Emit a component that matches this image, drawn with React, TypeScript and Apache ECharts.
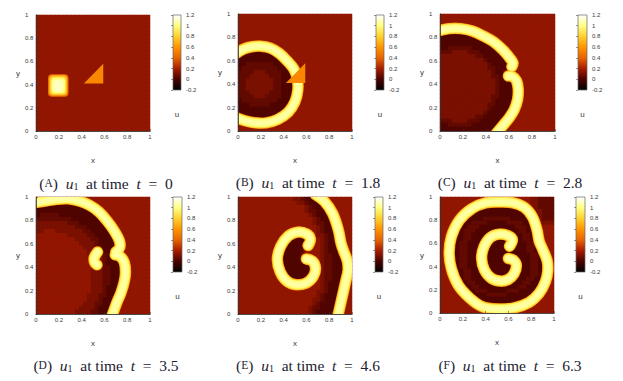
import React, { useEffect, useRef } from "react";
import * as echarts from "echarts";

const panelLetters = ["A", "B", "C", "D", "E", "F"];
const panelTimes = ["0", "1.8", "2.8", "3.5", "4.6", "6.3"];
const axisTicks = { min: 0, max: 1, step: 0.2 };
const colorRange = { min: -0.2, max: 1.2, step: 0.2 };
const palette = ["#000000", "#4a0300", "#a81c00", "#e86400", "#ff9400", "#ffd030", "#ffff80", "#ffffff"];

// field levels
const levelValues = [-0.02, 0.01, 0.05, 0.1, 0.15];
const backgroundValue = 0.15;
const cellCount = 29;

// each row, top to bottom: "level.runLength" runs from x = 0; the rest of a row is background
const fieldA: string[] = [];
const fieldB = ["", "", "", "", "", "", "", "", "",
  "1.10", "1.11", "1.12", "1.2 2.7 1.4", "1.1 2.9 1.4", "2.4 3.3 2.4 1.3", "2.3 3.5 2.3 1.4",
  "2.2 3.7 2.2 1.4", "2.2 3.7 2.2 1.4", "2.2 3.7 2.2 1.4", "2.3 3.5 2.3 1.4", "2.4 3.3 2.4 1.4",
  "1.1 2.9 1.4", "1.3 2.5 1.6", "1.13", "1.13", "1.11", "1.9", "", ""];
const fieldC = ["", "", "", "",
  "1.9", "1.11", "1.13", "1.14", "1.2 2.6 1.7", "2.3 3.4 2.3 1.6", "3.9 2.2 1.6", "3.11 2.1 1.6",
  "3.12 2.1 1.5", "3.12 2.2 1.3 2.1", "3.13 2.1 1.2 3.1", "3.13 2.2 1.3", "3.14 2.1 1.4", "3.14 2.1 1.4",
  "3.14 2.1 1.5", "3.14 2.1 1.5", "3.13 2.2 1.5", "3.13 2.1 1.6", "3.12 2.2 1.5", "3.12 2.1 1.6",
  "3.11 2.1 1.6", "3.9 2.2 1.6", "2.3 3.4 2.3 1.6", "1.2 2.6 1.8", "1.15"];
const fieldD = ["",
  "1.12", "1.14", "1.16", "1.1 2.5 1.11", "2.9 1.9", "3.8 2.3 1.8", "3.10 2.3 1.6", "3.2 4.3 3.7 2.2 1.6",
  "4.8 3.5 2.2 1.6", "4.10 3.4 2.2 1.5", "4.11 3.4 2.1 1.6", "4.12 3.3 2.2 1.5", "4.13 3.3 2.1 1.3",
  "4.13 3.3 2.2 1.3", "4.14 3.3 2.1 1.4", "4.14 3.3 2.1 1.5", "4.14 3.3 2.2 1.4", "4.14 3.3 2.2 1.4",
  "4.14 3.3 2.2 1.4", "4.14 3.3 2.2 1.4", "4.14 3.3 2.2 1.3", "4.14 3.3 2.1 1.4", "4.14 3.3 2.1 1.4",
  "4.13 3.3 2.2 1.3", "4.13 3.3 2.1 1.4", "4.12 3.3 2.2 1.3", "4.11 3.4 2.1 1.4", "4.10 3.4 2.2 1.3"];
const fieldE = [
  "4.14 3.2 2.1 1.3", "4.15 3.2 2.1 1.4", "4.17 3.1 2.1 1.4", "4.17 3.1 2.2 1.4", "4.18 3.1 2.1 1.4",
  "4.19 3.1 2.1 1.4", "4.19 3.1 2.2 1.3", "4.20 3.1 2.1 1.4", "4.20 3.1 2.1 1.4", "4.13 1.5 4.2 3.2 2.1 1.3",
  "4.12 1.6 4.3 3.1 2.1 1.3", "4.11 1.7 4.3 3.1 2.1 1.4", "4.11 1.6 4.4 3.1 2.1 1.4", "4.10 1.6 2.1 4.4 3.1 2.1 1.4",
  "4.10 1.6 3.1 4.4 3.1 2.2 1.4", "4.10 1.7 4.4 3.1 2.2 1.4", "4.10 1.9 4.2 3.1 2.2 1.4", "4.10 1.10 4.1 3.1 2.2 1.4",
  "4.10 1.10 4.1 3.1 2.2 1.4", "4.11 1.8 4.2 3.1 2.2 1.4", "4.12 1.6 4.3 3.1 2.2 1.4", "4.14 1.3 4.4 3.1 2.1 1.4",
  "4.21 3.1 2.1 1.4", "4.20 3.2 2.1 1.4", "4.20 3.1 2.1 1.5", "4.19 3.2 2.1 1.4", "4.19 3.1 2.1 1.5",
  "4.18 3.1 2.2 1.5", "4.18 3.1 2.1 1.5"];
const fieldF = [
  "4.23 3.2 2.4", "4.12 1.7 4.4 3.2 2.4", "4.9 1.12 4.2 3.2 2.4", "4.8 1.14 4.1 3.3 2.3", "4.6 1.17 3.3 2.3",
  "4.5 1.6 2.7 1.6 3.2 2.3", "4.4 1.4 2.4 1.5 2.4 1.3 3.5", "4.4 1.3 2.3 1.9 2.3 1.2", "4.3 1.3 2.3 1.11 2.2 1.3",
  "4.3 1.3 2.2 1.13 2.2 1.2", "4.3 1.3 2.2 1.13 2.2 1.2", "4.3 1.2 2.2 1.15 2.2 1.2", "4.2 1.3 2.2 1.15 2.2 1.2",
  "4.2 1.3 2.2 1.15 2.2 1.2", "4.2 1.3 2.2 1.16 2.2 1.2", "4.2 1.3 2.2 1.16 2.2 1.2", "4.2 1.3 2.2 1.16 2.2 1.2",
  "4.2 1.3 2.2 1.16 2.2 1.2", "4.3 1.3 2.2 1.15 2.2 1.2", "4.3 1.3 2.2 1.15 2.2 1.2", "4.3 1.3 2.2 1.14 2.2 1.3",
  "4.4 1.3 2.2 1.12 2.2 1.4", "4.5 1.3 2.2 1.10 2.2 1.4", "4.5 1.4 2.3 1.5 2.3 1.6", "4.7 1.5 2.5 1.8",
  "4.8 1.16", "4.9 1.14", "4.11 1.8", ""];

// centre lines of the bright fronts as [x, y]
const bandsA: number[][][] = [];
const bandsB = [[[-0.02, 0.66], [0.05, 0.7], [0.12, 0.72], [0.2, 0.725], [0.28, 0.71], [0.36, 0.665], [0.43, 0.6], [0.49, 0.53], [0.52, 0.45], [0.525, 0.35], [0.5, 0.25], [0.44, 0.16], [0.35, 0.1], [0.25, 0.07], [0.15, 0.07], [0.07, 0.085], [-0.02, 0.115]]];
const bandsC = [
  [[-0.02, 0.855], [0.08, 0.875], [0.18, 0.875], [0.28, 0.855], [0.38, 0.81], [0.47, 0.76], [0.55, 0.69], [0.61, 0.62], [0.635, 0.58], [0.625, 0.55]],
  [[0.595, 0.47], [0.63, 0.465], [0.665, 0.43], [0.68, 0.36], [0.675, 0.27], [0.645, 0.18], [0.6, 0.11], [0.55, 0.05], [0.49, -0.02]],
];
const bandsD = [
  [[-0.02, 0.95], [0.08, 0.965], [0.18, 0.98], [0.28, 0.985], [0.38, 0.965], [0.47, 0.93], [0.55, 0.875], [0.62, 0.8], [0.68, 0.72], [0.73, 0.63], [0.735, 0.57], [0.7, 0.53]],
  [[0.695, 0.505], [0.74, 0.49], [0.775, 0.44], [0.785, 0.36], [0.775, 0.28], [0.745, 0.18], [0.71, 0.1], [0.665, -0.02]],
  [[0.54, 0.53], [0.51, 0.48], [0.515, 0.44], [0.535, 0.42]],
];
const bandsE = [
  [[0.68, 1.02], [0.76, 0.96], [0.83, 0.86], [0.88, 0.72], [0.905, 0.6], [0.93, 0.53], [0.96, 0.45], [0.965, 0.37], [0.945, 0.28], [0.915, 0.15], [0.875, -0.02]],
  [[0.615, 0.585], [0.635, 0.64], [0.6, 0.685], [0.52, 0.7], [0.44, 0.665], [0.375, 0.58], [0.345, 0.47], [0.37, 0.36], [0.43, 0.28], [0.51, 0.25], [0.6, 0.265], [0.66, 0.32], [0.68, 0.39], [0.655, 0.45], [0.6, 0.47]],
];
const bandsF = [
  [[0.53, 0.957], [0.64, 0.95], [0.74, 0.91], [0.81, 0.83], [0.85, 0.72], [0.87, 0.62], [0.9, 0.55], [0.94, 0.45], [0.945, 0.36], [0.925, 0.27], [0.87, 0.17], [0.78, 0.09], [0.65, 0.045], [0.5, 0.035], [0.37, 0.055], [0.26, 0.13], [0.16, 0.24], [0.1, 0.38], [0.08, 0.52], [0.1, 0.66], [0.17, 0.8], [0.28, 0.9], [0.4, 0.95], [0.53, 0.957]],
  [[0.61, 0.575], [0.635, 0.63], [0.6, 0.665], [0.52, 0.68], [0.44, 0.65], [0.385, 0.57], [0.365, 0.47], [0.39, 0.37], [0.45, 0.3], [0.53, 0.275], [0.6, 0.29], [0.65, 0.34], [0.67, 0.41], [0.645, 0.455], [0.6, 0.47]],
];

// initial square of panel A: x0, y0, x1, y1, value
const squareA = [
  [0.105, 0.295, 0.285, 0.49, 0.45],
  [0.115, 0.305, 0.275, 0.48, 0.7],
  [0.125, 0.315, 0.265, 0.47, 0.85],
  [0.135, 0.325, 0.255, 0.46, 1.0],
  [0.15, 0.34, 0.24, 0.44, 1.1],
];
// obstacle triangle: x, y of three corners, in panels A and B
const triangle = [0.42, 0.41, 0.59, 0.41, 0.59, 0.58];
const triangleValue = 0.55;
const bandLayerValues = [0.62, 0.85, 1.0, 1.06];

const fields = [fieldA, fieldB, fieldC, fieldD, fieldE, fieldF];
const bands = [bandsA, bandsB, bandsC, bandsD, bandsE, bandsF];

const plotRects = [
  [36, 15, 114, 116], [238, 14, 114, 117], [440, 14, 115, 117],
  [36, 197, 114, 117], [238, 197, 114, 117], [440, 197, 114, 116],
];
const barRects = [
  [173, 15, 8, 75], [376, 15, 8, 75], [578, 15, 9, 75],
  [173, 197, 9, 75], [375, 197, 8, 75], [576, 197, 9, 75],
];
const captionCentres = [[106, 183], [308, 182], [510, 182], [106, 365], [308, 365], [510, 365]];
const bandWidths = [11.5, 10.2, 8, 4];
const SANS = "'Liberation Sans', Arial, sans-serif";
const SERIF = "'Liberation Serif', serif";
const TEXT = "#3a3a3a";

function colorAt(v: number): string {
  const t = ((v - colorRange.min) / (colorRange.max - colorRange.min)) * (palette.length - 1);
  const i = Math.min(palette.length - 2, Math.floor(t));
  return echarts.color.lerp(t - i, [palette[i], palette[i + 1]]) as string;
}

function decode(rows: string[]): number[][] {
  const out: number[][] = [];
  for (let r = 0; r < cellCount; r++) {
    const cells: number[] = [];
    (rows[r] || "").split(" ").filter(Boolean).forEach((run) => {
      const [lev, n] = run.split(".").map(Number);
      for (let k = 0; k < n; k++) cells.push(lev);
    });
    while (cells.length < cellCount) cells.push(4);
    cells.slice(0, cellCount).forEach((lev, c) => out.push([c, cellCount - 1 - r, levelValues[lev]]));
  }
  return out;
}

function buildOption() {
  const grid: any[] = [];
  const xAxis: any[] = [];
  const yAxis: any[] = [];
  const series: any[] = [];
  const graphic: any[] = [];
  const indices = Array.from({ length: cellCount }, (_, i) => String(i));
  const tickLabel = { fontSize: 6, color: TEXT, fontFamily: SANS };
  const line = { show: true, lineStyle: { color: "#333", width: 0.6 } };
  const tick = { show: true, inside: true, length: 2, lineStyle: { color: "#333", width: 0.5 } };

  plotRects.forEach((rect, p) => {
    const g = grid.length;
    grid.push({ left: rect[0], top: rect[1], width: rect[2], height: rect[3], containLabel: false, show: true, borderWidth: 0, backgroundColor: colorAt(backgroundValue) });
    const xCat = xAxis.length;
    xAxis.push({ gridIndex: g, type: "category", data: indices, position: "top", z: 10, axisLine: line, axisTick: { show: false }, axisLabel: { show: false }, splitLine: { show: false } });
    const xVal = xAxis.length;
    xAxis.push({
      gridIndex: g, type: "value", position: "bottom", min: axisTicks.min, max: axisTicks.max, interval: axisTicks.step, z: 10,
      name: "x", nameLocation: "middle", nameGap: 25, nameTextStyle: { fontSize: 8, color: TEXT, fontFamily: SANS },
      axisLine: line, axisTick: tick, axisLabel: { ...tickLabel, margin: 3 }, splitLine: { show: false },
    });
    const yCat = yAxis.length;
    yAxis.push({ gridIndex: g, type: "category", data: indices, position: "right", z: 10, axisLine: line, axisTick: { show: false }, axisLabel: { show: false }, splitLine: { show: false } });
    const yVal = yAxis.length;
    yAxis.push({
      gridIndex: g, type: "value", position: "left", min: axisTicks.min, max: axisTicks.max, interval: axisTicks.step, z: 10,
      name: "y", nameLocation: "middle", nameGap: 16, nameRotate: 0, nameTextStyle: { fontSize: 8, color: TEXT, fontFamily: SANS },
      axisLine: line, axisTick: tick, axisLabel: { ...tickLabel, margin: 11, align: "left" }, splitLine: { show: false },
    });

    series.push({ type: "heatmap", xAxisIndex: xCat, yAxisIndex: yCat, data: decode(fields[p]), z: 2, itemStyle: { borderWidth: 0 } });

    bands[p].forEach((points) => {
      bandLayerValues.forEach((v, layer) => {
        series.push({
          type: "custom", xAxisIndex: xVal, yAxisIndex: yVal, data: points, z: 3 + layer * 0.1, clip: true,
          encode: { x: 0, y: 1 },
          renderItem: (params: any, api: any) => {
            if (params.dataIndex !== 0) return null;
            return {
              type: "polyline",
              shape: { points: points.map((q) => api.coord(q)), smooth: 0.35 },
              style: { fill: "none", stroke: colorAt(v), lineWidth: bandWidths[layer], lineCap: "round", lineJoin: "round" },
            };
          },
        });
      });
    });

    if (p === 0) {
      series.push({
        type: "custom", xAxisIndex: xVal, yAxisIndex: yVal, data: squareA, z: 4, clip: true,
        encode: { x: [0, 2], y: [1, 3] },
        renderItem: (_: any, api: any) => {
          const a = api.coord([api.value(0), api.value(3)]);
          const b = api.coord([api.value(2), api.value(1)]);
          return {
            type: "rect",
            shape: { x: a[0], y: a[1], width: b[0] - a[0], height: b[1] - a[1], r: 4 },
            style: { fill: colorAt(api.value(4)) },
          };
        },
      });
    }
    if (p < 2) {
      series.push({
        type: "custom", xAxisIndex: xVal, yAxisIndex: yVal, data: [triangle], z: 5, clip: true,
        encode: { x: [0, 2, 4], y: [1, 3, 5] },
        renderItem: (_: any, api: any) => ({
          type: "polygon",
          shape: { points: [0, 2, 4].map((k) => api.coord([api.value(k), api.value(k + 1)])) },
          style: { fill: colorAt(triangleValue) },
        }),
      });
    }

    // colour bar with its own value axis
    const bar = barRects[p];
    const bg = grid.length;
    grid.push({ left: bar[0], top: bar[1], width: bar[2], height: bar[3], containLabel: false });
    const xBar = xAxis.length;
    xAxis.push({
      gridIndex: bg, type: "value", min: 0, max: 1, name: "u", nameLocation: "middle", nameGap: 20,
      nameTextStyle: { fontSize: 8, color: TEXT, fontFamily: SANS },
      axisLine: { show: false }, axisTick: { show: false }, axisLabel: { show: false }, splitLine: { show: false },
    });
    const yBar = yAxis.length;
    yAxis.push({
      gridIndex: bg, type: "value", position: "right", min: colorRange.min, max: colorRange.max, interval: colorRange.step, z: 10,
      axisLine: { show: false }, axisTick: { show: true, inside: true, length: 2, lineStyle: { color: "#333", width: 0.5 } },
      axisLabel: { ...tickLabel, margin: 5 }, splitLine: { show: false },
    });
    series.push({
      type: "custom", xAxisIndex: xBar, yAxisIndex: yBar, data: [[0, colorRange.min, 1, colorRange.max]], z: 2,
      encode: { x: [0, 2], y: [1, 3] },
      renderItem: (_: any, api: any) => {
        const a = api.coord([api.value(0), api.value(3)]);
        const b = api.coord([api.value(2), api.value(1)]);
        const stops = palette.map((c, i) => ({ offset: 1 - i / (palette.length - 1), color: c }));
        stops.reverse();
        return {
          type: "rect",
          shape: { x: a[0], y: a[1], width: b[0] - a[0], height: b[1] - a[1] },
          style: { fill: new echarts.graphic.LinearGradient(0, 0, 0, 1, stops), stroke: "#666", lineWidth: 0.7 },
        };
      },
    });

    const c = captionCentres[p];
    graphic.push({
      type: "text", x: c[0], y: c[1], silent: true,
      style: {
        text: `{r|(}{c|${panelLetters[p]}}{r|)  }{i|u}{s|1}{r|  at time  }{i|t}{r|  =  ${panelTimes[p]}}`,
        align: "center", verticalAlign: "middle", fill: "#1b2230",
        rich: {
          r: { fontFamily: SERIF, fontSize: 15.5, fill: "#1b2230" },
          c: { fontFamily: SERIF, fontSize: 11.5, fill: "#1b2230" },
          i: { fontFamily: SERIF, fontSize: 15.5, fontStyle: "italic", fill: "#1b2230" },
          s: { fontFamily: SERIF, fontSize: 10, fill: "#1b2230", verticalAlign: "bottom", lineHeight: 6 },
        },
      },
    });
  });

  const heatmapIndices = series.map((s, i) => (s.type === "heatmap" ? i : -1)).filter((i) => i >= 0);
  return {
    animation: false,
    backgroundColor: "#ffffff",
    grid, xAxis, yAxis, series, graphic,
    visualMap: { show: false, min: colorRange.min, max: colorRange.max, seriesIndex: heatmapIndices, inRange: { color: palette } },
  };
}

export default function App() {
  const ref = useRef<HTMLDivElement>(null);
  useEffect(() => {
    const chart = echarts.init(ref.current!, undefined, { renderer: "svg" });
    chart.setOption(buildOption() as any);
    return () => chart.dispose();
  }, []);
  return <div ref={ref} style={{ position: "absolute", left: 0, top: 0, width: 623, height: 381 }} />;
}
